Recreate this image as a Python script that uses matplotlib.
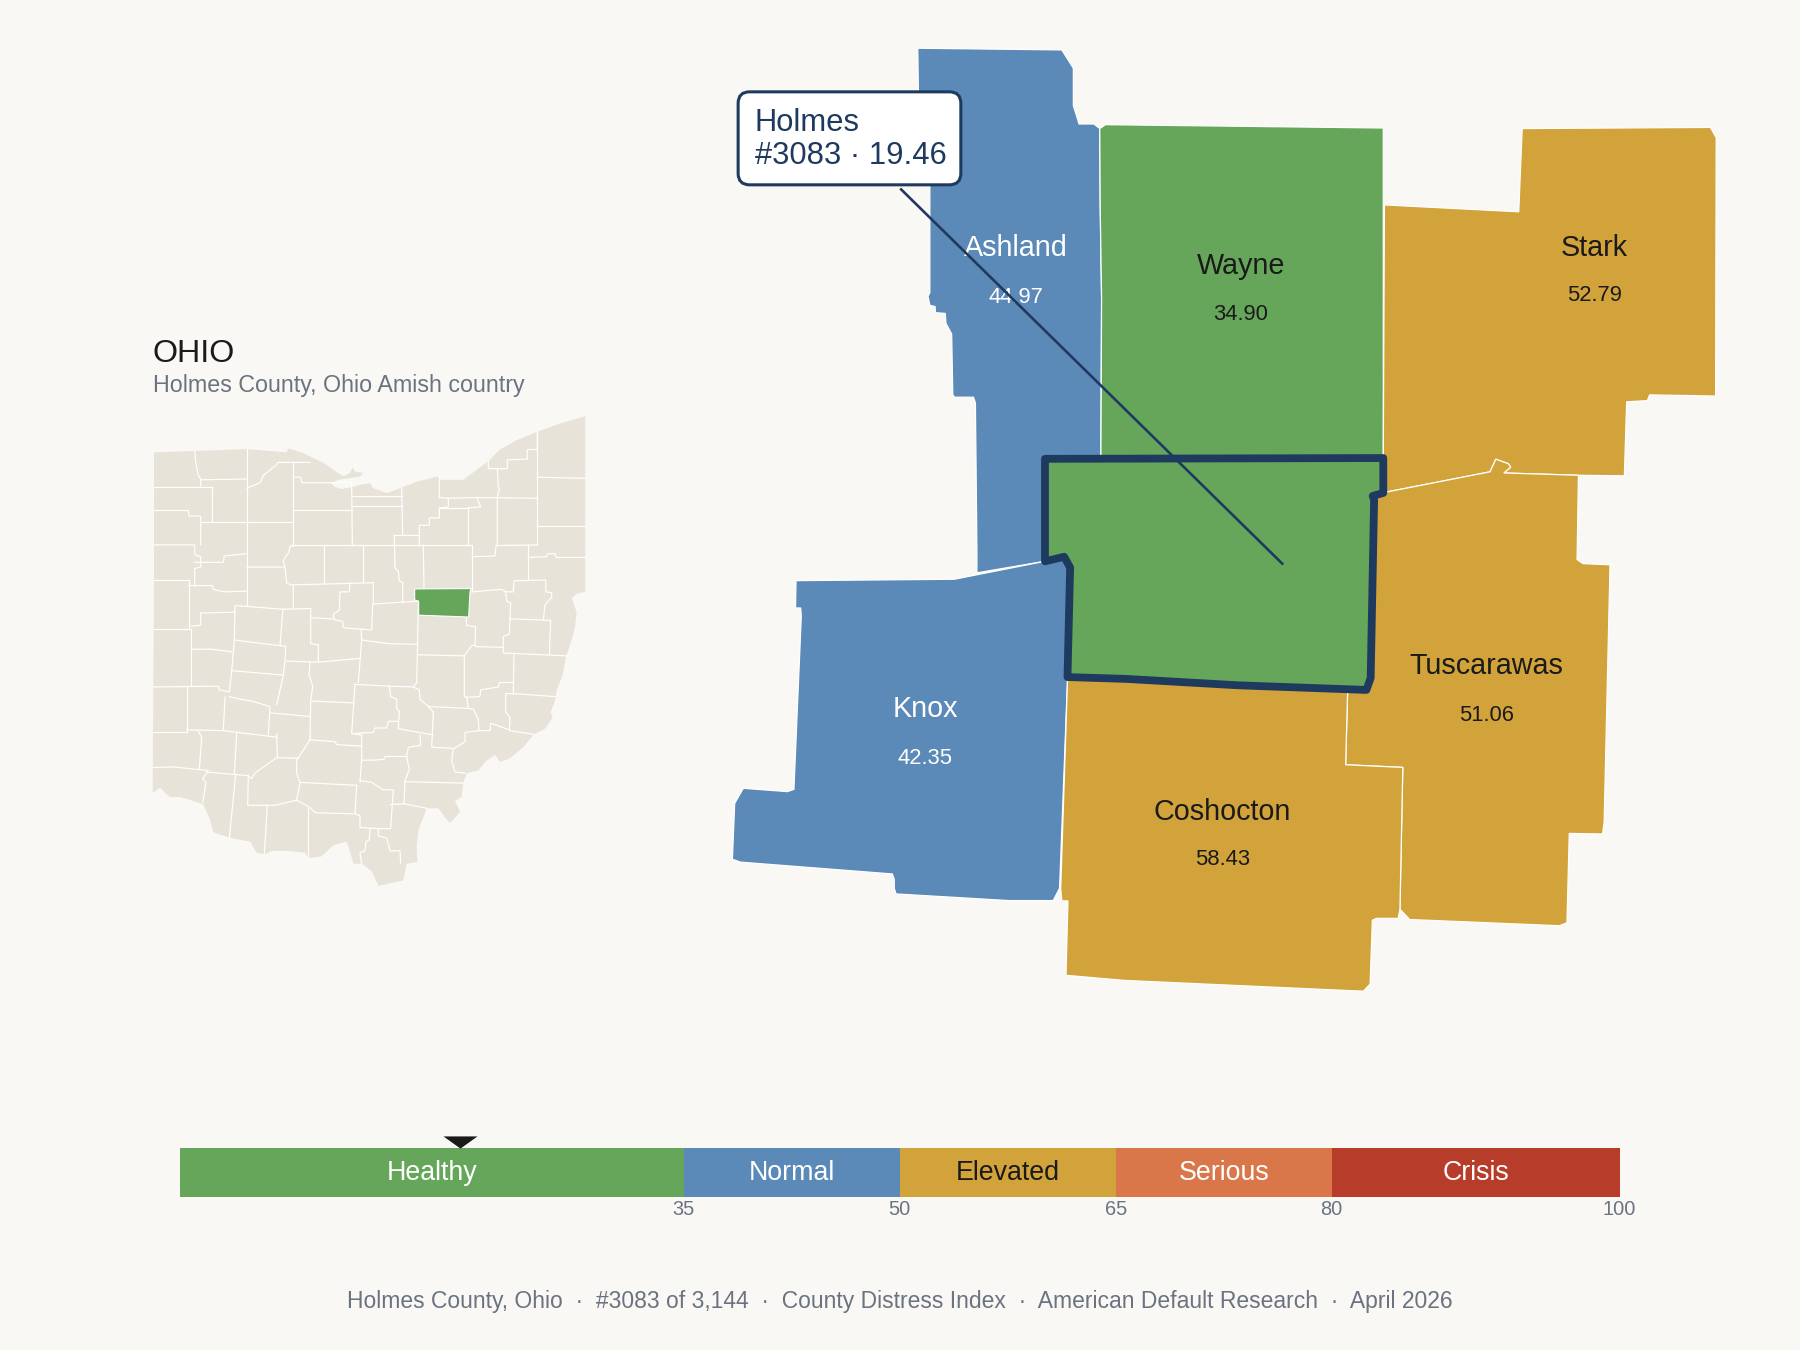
import matplotlib
matplotlib.use("Agg")
import matplotlib.pyplot as plt
from matplotlib.patches import Polygon, FancyBboxPatch

plt.rcParams['font.family'] = ['Liberation Sans', 'DejaVu Sans']

BG = '#faf8f4'; NAVY = '#1f3a5f'; GREY = '#6b7280'; DARK = '#1a1a1a'; LAND = '#e8e3d8'
GREEN = '#66a65a'; BLUE = '#5b89b8'; GOLD = '#d1a33a'; ORANGE = '#d9774a'; RED = '#b83c2a'

# Distress bands
band_names = ['Healthy', 'Normal', 'Elevated', 'Serious', 'Crisis']
band_breaks = [0, 35, 50, 65, 80, 100]
band_colors = [GREEN, BLUE, GOLD, ORANGE, RED]
band_text = ['white', 'white', DARK, 'white', 'white']
tick_values = [35, 50, 65, 80, 100]
holmes_score = 19.46

# Neighbouring counties
county_names = ['Ashland', 'Wayne', 'Stark', 'Knox', 'Tuscarawas', 'Coshocton']
county_scores = [44.97, 34.90, 52.79, 42.35, 51.06, 58.43]
county_text_colors = ['white', DARK, DARK, 'white', DARK, DARK]
county_label_x = [885, 1081, 1389, 806, 1295, 1065]
county_label_y = [216, 232, 216, 618, 580, 707]
county_value_y = [259, 274, 257, 661, 623, 749]

ashland = [(799.5,42),(925,43.5),(935,59.5),(935,92),(940,108),(953,108),(958,112),(958.4,180),(959.6,260),(959,399),
           (910,399),(910,489),(851,499),(851,479),(849.7,351),(848,346),(831.5,346),(830,344),(829,291),(824,281.6),
           (823.5,273),(815,272.4),(814.5,267),(810,266),(808.4,258),(810,255),(810,160),(800,80)]
wayne = [(958,112),(963,108.6),(1080,110),(1205,111.5),(1205,399),(959,399),(959.6,260),(958.4,180)]
stark = [(1206,178.5),(1323,184.5),(1326,112),(1490,111),(1495,120),(1494.5,345),(1437,344),(1435,349),(1417,350),
         (1415,414.5),(1375,414),(1310,412),(1316,407),(1314,404),(1303,400),(1298,411),(1209,428.4),(1205,429),(1205,399)]
tuscarawas = [(1205,429),(1209,428.4),(1298,411),(1303,400),(1314,404),(1316,407),(1310,412),(1375,414),(1373.8,487.4),
              (1379,491),(1402.5,492),(1397.4,716),(1396,726.5),(1367,726),(1365,803.8),(1358.5,806.4),(1228,801),
              (1219.5,792),(1222,668.5),(1172.2,666.2),(1173.9,603),(1190,601),(1194,591),(1197,436),(1196,432)]
coshocton = [(930,590),(981,591.4),(1079,597),(1190,601),(1173.9,603),(1172.2,666.2),(1222,668.5),(1219.5,792),(1218,800),
             (1199,800),(1195.5,801.6),(1193.5,857.3),(1187.7,863.4),(1173,862.8),(979,854),(928.6,849.6),(930.3,784.8),
             (925,784.8),(924,774.2)]
knox = [(693.4,505.8),(831.3,504.6),(910,489),(927,485),(932,494),(930,590),(923,773.8),(917.5,784.5),(879,784.5),(780.5,778.7),
        (779,773.8),(779,766),(777.3,761.3),(645,751),(638,748.5),(640,699.8),(647.5,686.7),(686,689.6),(691.6,687.6),
        (698,537),(697.5,529.6),(693,529.6)]
county_shapes = [ashland, wayne, stark, knox, tuscarawas, coshocton]
holmes_shape = [(910.3,399.7),(1205,399),(1205,429.4),(1195.8,432),(1197,435.8),(1194,590.6),(1190.3,601),(1079,597),
                (981,591.4),(929.9,589.8),(932.2,494.4),(927,485),(910.3,489)]

# Inset state map
ohio_outline = [(72,358),(194,354),(350,349),(470,358),(475,347),(520,360),(580,386),(610,405),(640,423),(660,414),(668,398),
                (675,410),(700,413),(690,423),(655,428),(625,432),(603,441),(615,452),(635,457),(665,452),(690,446),(720,441),
                (730,455),(770,468),(810,455),(860,437),(925,423),(930,432),(970,432),(1000,432),(1040,405),(1075,382),(1110,350),
                (1160,325),(1222,302),(1290,280),(1366,260),(1366,735),(1340,740),(1325,752),(1340,790),(1335,830),(1320,880),
                (1308,910),(1298,960),(1280,1000),(1275,1030),(1262,1060),(1268,1075),(1245,1105),(1212,1120),(1180,1155),
                (1140,1185),(1110,1195),(1095,1175),(1065,1195),(1045,1218),(1010,1225),(1000,1250),(995,1290),(975,1300),
                (990,1330),(960,1360),(945,1345),(925,1320),(890,1320),(865,1380),(860,1420),(862,1465),(830,1470),(820,1515),
                (745,1530),(725,1490),(695,1470),(670,1470),(658,1430),(650,1410),(610,1420),(575,1450),(535,1455),(525,1440),
                (470,1435),(425,1435),(405,1445),(380,1440),(360,1410),(300,1400),(250,1385),(240,1350),(220,1310),(190,1300),
                (150,1290),(120,1290),(90,1265),(68,1278),(70,990),(72,700)]
ohio_holmes = [(854,727),(1023,726),(1020,735),(1016,803),(866,798),(866,760),(854,757)]
ohio_borders = [
 [(194,354),(197,385),(205,420),(212,430),(212,452)],[(72,452),(245,452)],[(212,432),(350,430)],[(245,452),(245,545)],
 [(72,515),(175,515),(177,530),(212,530),(212,608)],[(350,349),(350,770)],[(212,545),(490,545)],
 [(72,608),(194,608),(194,635),(212,640),(212,668),(194,672),(194,718)],[(194,655),(280,655),(283,638),(350,632)],
 [(72,703),(176,703),(176,835)],[(176,718),(247,718),(250,728),(282,735),(350,733)],[(72,835),(184,835),(184,990)],
 [(350,668),(465,668),(470,712),(490,718),(490,780)],[(490,385),(490,610)],[(350,455),(390,440),(400,420),(435,395),(445,385),(540,385)],
 [(490,425),(512,425),(515,440),(665,440)],[(490,515),(665,515)],[(665,440),(667,608)],[(665,475),(815,475)],[(665,503),(815,503)],
 [(815,455),(818,582)],[(490,610),(482,610),(475,630),(460,650),(465,668)],[(482,608),(1025,608)],[(583,608),(583,712)],[(700,608),(700,710)],
 [(490,716),(660,712),(730,710),(730,765)],
 [(660,710),(658,735),(630,735),(628,785),(610,795),(612,810),(638,815),(640,832),(725,838),(728,768),(865,760)],
 [(793,582),(868,582)],[(793,582),(795,670),(805,680),(808,705),(818,710),(818,765)],[(880,608),(882,725)],
 [(868,608),(868,555),(898,555),(898,535),(928,535),(928,508),(955,505),(955,482),(928,480),(928,423)],
 [(928,508),(1015,508),(1015,608)],[(955,482),(1040,480),(1052,505),(1015,508)],[(1040,480),(1222,482)],
 [(1075,382),(1075,402),(1132,402),(1132,378),(1192,376),(1192,350),(1222,350),(1222,302)],
 [(1102,402),(1105,450),(1108,455),(1102,480),(1102,608)],[(1222,302),(1222,608)],[(1222,425),(1366,428)],[(1222,558),(1366,558)],
 [(1027,608),(1027,730)],[(1027,640),(1095,638),(1098,610),(1222,608)],[(1195,608),(1195,700)],
 [(1195,642),(1250,640),(1252,632),(1275,632),(1278,642),(1366,642)],
 [(1025,735),(1115,728),(1127,735),(1150,735),(1152,705),(1247,703),(1248,735),(1265,737),(1265,750),(1245,770),(1240,810)],
 [(1127,735),(1130,760),(1142,765),(1140,808),(1262,812),(1258,905)],[(1140,808),(1138,850),(1120,855),(1120,900),(1310,908)],
 [(865,760),(862,905),(1003,908),(1025,880),(1035,880),(1037,830),(1010,825),(1008,800)],[(1037,883),(1120,885)],[(1152,902),(1150,1010)],
 [(1003,908),(1003,1018),(1012,1020),(1050,1018),(1052,1000),(1105,992),(1108,980),(1150,980)],
 [(1150,1010),(1127,1010),(1127,1060),(1140,1075),(1138,1110),(1212,1120)],
 [(1010,1020),(1015,1050),(1030,1052),(1045,1080),(1047,1110),(1005,1115),(1005,1140),(970,1160),(965,1190),(975,1222),(1005,1225)],
 [(1045,1110),(1080,1110),(1082,1090),(1138,1108)],[(1150,1010),(1275,1018)],
 [(1015,1050),(895,1045),(870,1025),(868,1000),(850,992),(778,990),(675,985)],[(862,905),(860,980),(850,992)],
 [(695,865),(775,875),(862,877)],[(693,838),(695,865),(685,980)],[(542,780),(542,875),(565,878),(565,925),(688,915)],
 [(542,780),(460,782),(315,772),(313,865),(305,950),(298,1005)],[(459,782),(450,878)],
 [(313,865),(380,873),(467,882),(465,920),(460,960),(440,1040)],[(467,922),(565,925)],
 [(540,925),(537,960),(548,990),(542,1030),(540,1135)],[(305,948),(460,960)],[(545,1030),(670,1035)],
 [(675,985),(665,1118),(695,1122),(695,1185),(690,1250)],
 [(778,990),(782,1018),(800,1025),(800,1050),(808,1058),(805,1105),(910,1122)],
 [(665,1118),(730,1115),(735,1103),(770,1103),(775,1085),(805,1085)],[(910,1060),(905,1155),(968,1158)],[(895,1045),(910,1060)],
 [(870,1122),(872,1150),(835,1155),(830,1180),(765,1180),(762,1188),(725,1190),(695,1190)],
 [(830,1180),(838,1215),(825,1245),(822,1308)],[(825,1248),(1000,1252)],
 [(690,1245),(725,1250),(760,1270),(790,1270),(782,1375),(742,1375)],
 [(680,1258),(675,1335),(690,1340),(690,1372),(745,1375),(745,1395),(770,1400),(780,1435),(810,1435),(812,1468)],
 [(782,1310),(822,1308),(890,1320)],[(720,1375),(718,1405),(708,1410),(705,1435),(690,1440),(695,1470)],[(510,1250),(680,1258)],
 [(510,1250),(500,1298),(540,1318),(555,1332),(675,1335)],[(535,1318),(535,1455)],[(500,1298),(435,1312),(353,1312),(355,1230)],
 [(412,1312),(403,1445)],[(317,1228),(298,1400)],[(230,1222),(355,1232),(365,1240),(375,1225),(440,1183),(505,1185)],
 [(440,1120),(442,1183)],[(280,1110),(442,1128)],[(285,1020),(280,1110)],[(298,1018),(330,1025),(365,1030),(420,1045),(415,1120)],
 [(420,1062),(540,1072)],[(540,1135),(500,1190),(500,1225),(510,1250)],[(540,1135),(615,1140),(620,1148),(695,1152)],
 [(170,1108),(280,1110)],[(170,990),(170,1115)],[(70,992),(265,990),(268,1000),(298,1005)],[(70,1115),(170,1115)],
 [(205,1112),(215,1128),(208,1215)],[(70,1210),(125,1208),(235,1218),(218,1240),(228,1250),(218,1305)],[(320,1118),(313,1228)],
 [(184,890),(245,890),(305,897)],[(184,828),(212,825),(212,792),(315,790)],[(542,805),(610,808)],
]

fig = plt.figure(figsize=(18, 13.5), dpi=100, facecolor=BG)

# Main map, full-figure canvas
ax = fig.add_axes([0, 0, 1, 1])
ax.set_xlim(0, 1568); ax.set_ylim(1176, 0); ax.axis('off')
for shape, score in zip(county_shapes, county_scores):
    idx = next(i for i in range(5) if band_breaks[i] <= score < band_breaks[i + 1])
    ax.add_patch(Polygon(shape, closed=True, facecolor=band_colors[idx], edgecolor='white', linewidth=0.9, zorder=2))
for name, score, c, x, y, vy in zip(county_names, county_scores, county_text_colors, county_label_x, county_label_y, county_value_y):
    ax.text(x, y, name, ha='center', va='center', fontsize=20.7, color=c, zorder=3)
    ax.text(x, vy, f'{score:.2f}', ha='center', va='center', fontsize=15.8, color=c, zorder=3)
ax.add_patch(Polygon(holmes_shape, closed=True, facecolor=GREEN, edgecolor=NAVY, linewidth=5.6, joinstyle='round', zorder=4))
ax.plot([785, 1117], [165, 491], color=NAVY, lw=1.9, zorder=5)
ax.add_patch(FancyBboxPatch((651, 88), 178, 65, boxstyle='round,pad=8,rounding_size=10', facecolor='white',
                            edgecolor=NAVY, linewidth=2.2, zorder=6))
ax.text(657.5, 107, 'Holmes', ha='left', va='center', fontsize=22.3, color=NAVY, zorder=7)
ax.text(657.5, 136, '#3083 \u00b7 19.46', ha='left', va='center', fontsize=22.3, color=NAVY, zorder=7)
ax.text(133, 308, 'OHIO', ha='left', va='center', fontsize=23.2, color=DARK)
ax.text(133, 336, 'Holmes County, Ohio Amish country', ha='left', va='center', fontsize=16.75, color=GREY)
ax.text(784, 1134, 'Holmes County, Ohio  \u00b7  #3083 of 3,144  \u00b7  County Distress Index  \u00b7  American Default Research  \u00b7  April 2026',
        ha='center', va='center', fontsize=16.5, color=GREY)

# Inset state map
axi = fig.add_axes([130/1800, 1 - 900/1350, 480/1800, 580/1350])
axi.set_xlim(0, 1440); axi.set_ylim(1568, 0); axi.axis('off')
axi.add_patch(Polygon(ohio_outline, closed=True, facecolor=LAND, edgecolor='none', zorder=1))
for seg in ohio_borders:
    axi.plot([p[0] for p in seg], [p[1] for p in seg], color='white', lw=0.85, solid_joinstyle='miter', zorder=2)
axi.add_patch(Polygon(ohio_holmes, closed=True, facecolor=GREEN, edgecolor='white', linewidth=0.8, zorder=3))

# Scale bar
axb = fig.add_axes([180/1800, 1 - 1197/1350, 1439.5/1800, 49/1350])
axb.set_xlim(0, 100); axb.set_ylim(0, 1)
for i, name in enumerate(band_names):
    lo, hi = band_breaks[i], band_breaks[i + 1]
    axb.barh(0.5, hi - lo, left=lo, height=1, color=band_colors[i], linewidth=0)
    axb.text((lo + hi) / 2, 0.5, name, ha='center', va='center', fontsize=19.3, color=band_text[i])
axb.set_xticks(tick_values)
axb.set_xticklabels([str(v) for v in tick_values], fontsize=14.4, color=GREY)
axb.tick_params(axis='x', length=0, pad=2)
axb.set_yticks([])
for s in axb.spines.values():
    s.set_visible(False)
axb.plot([holmes_score], [1.125], marker=[(-1.4, 0.5), (1.4, 0.5), (0, -0.5)], markersize=24.5, color=DARK,
         markeredgewidth=0, clip_on=False, zorder=5)

fig.savefig('out.png', dpi=100, facecolor=BG)
